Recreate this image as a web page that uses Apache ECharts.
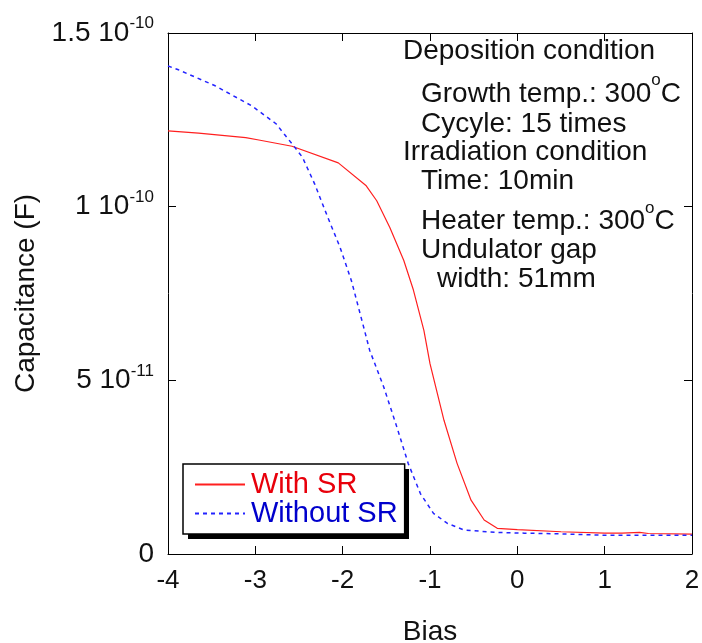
<!DOCTYPE html>
<html>
<head>
<meta charset="utf-8">
<script src="https://cdn.jsdelivr.net/npm/echarts@6/dist/echarts.min.js"></script>
<style>
html,body{margin:0;padding:0;background:#fff;}
#c{width:702px;height:643px;}
</style>
</head>
<body>
<div id="c"></div>
<script>
// ---- data ----
const xTicks = [-4, -3, -2, -1, 0, 1, 2];
const yTicks = [0, 5e-11, 1e-10, 1.5e-10];

const withSRBias = [-4, -3.65, -3.11, -2.96, -2.58, -2.05, -1.73, -1.61, -1.46, -1.30, -1.19, -1.07, -1.00, -0.84, -0.69, -0.53, -0.38, -0.23, 0.00, 0.50, 1.00, 1.20, 1.40, 1.50, 2.00];
const withSRCap  = [1.218e-10, 1.212e-10, 1.199e-10, 1.192e-10, 1.174e-10, 1.126e-10, 1.060e-10, 1.017e-10, 0.940e-10, 0.845e-10, 0.760e-10, 0.644e-10, 0.548e-10, 0.385e-10, 0.261e-10, 0.155e-10, 0.098e-10, 0.074e-10, 0.070e-10, 0.064e-10, 0.060e-10, 0.060e-10, 0.062e-10, 0.059e-10, 0.0575e-10];

const withoutSRBias = [-4, -3.88, -3.46, -3.04, -2.76, -2.67, -2.57, -2.46, -2.32, -2.17, -2.03, -1.90, -1.75, -1.69, -1.53, -1.38, -1.25, -1.11, -0.96, -0.80, -0.61, -0.23, 0.08, 0.50, 1.00, 2.00];
const withoutSRCap  = [1.405e-10, 1.394e-10, 1.348e-10, 1.290e-10, 1.238e-10, 1.209e-10, 1.178e-10, 1.142e-10, 1.065e-10, 0.969e-10, 0.883e-10, 0.787e-10, 0.644e-10, 0.586e-10, 0.481e-10, 0.366e-10, 0.261e-10, 0.174e-10, 0.117e-10, 0.088e-10, 0.069e-10, 0.062e-10, 0.060e-10, 0.058e-10, 0.054e-10, 0.054e-10];

const seriesNames = ['With SR', 'Without SR'];
const xName = 'Bias';
const yName = 'Capacitance (F)';
const noteLines = [
  'Deposition condition',
  'Growth temp.: 300{s|o}C',
  'Cycyle: 15 times',
  'Irradiation condition',
  'Time: 10min',
  'Heater temp.: 300{s|o}C',
  'Undulator gap',
  'width: 51mm'
];

// ---- layout / style ----
const FONT = "'Liberation Sans', Arial, Helvetica, sans-serif";
const noteX = [403, 421, 421, 403, 421, 421, 421, 437];
const noteY = [47.5, 90, 120, 148, 177, 217.5, 246, 275];

function zip(a, b) { return a.map((v, i) => [v, b[i]]); }

function yFmt(v) {
  if (Math.abs(v) < 1e-30) return '{m|0}';
  const e = Math.floor(Math.log10(v) + 1e-9);
  const m = +(v / Math.pow(10, e)).toFixed(3);
  return '{m|' + m + ' 10}{e|' + e + '}';
}

const chart = echarts.init(document.getElementById('c'), null, {renderer: 'canvas'});

const axisLine = {show: true, onZero: false, lineStyle: {color: '#000', width: 1}};
const tickIn = {show: true, inside: true, length: 8, lineStyle: {color: '#000', width: 1}};

const textGraphics = noteLines.map((t, i) => ({
  type: 'text',
  x: noteX[i], y: noteY[i],
  z: 10,
  style: {
    text: '{a|' + t.replace(/\{s\|o\}/g, '}{s|o}{a|') + '}',
    align: 'left', verticalAlign: 'middle',
    rich: {
      a: {fontSize: 28, lineHeight: 36, fill: '#111', fontFamily: FONT, verticalAlign: 'bottom'},
      s: {fontSize: 17, lineHeight: 14, fill: '#111', fontFamily: FONT, verticalAlign: 'top'}
    }
  }
}));

// black drop shadow behind the legend box
const legendShadow = {
  type: 'rect', z: 3,
  shape: {x: 188, y: 469, width: 221, height: 70},
  style: {fill: '#000'}
};

const option = {
  backgroundColor: '#fff',
  animation: false,
  textStyle: {fontFamily: FONT},
  grid: {left: 168, right: 10, top: 33, bottom: 89, containLabel: false, outerBoundsMode: 'none'},
  xAxis: [
    {
      type: 'value', min: xTicks[0], max: xTicks[xTicks.length - 1], interval: 1,
      position: 'bottom',
      axisLine: axisLine, axisTick: tickIn, splitLine: {show: false},
      axisLabel: {fontSize: 26, color: '#111', margin: 14, fontFamily: FONT},
      name: xName, nameLocation: 'middle', nameGap: 64,
      nameTextStyle: {fontSize: 28, color: '#111', fontFamily: FONT}
    },
    {
      type: 'value', min: xTicks[0], max: xTicks[xTicks.length - 1], interval: 1,
      position: 'top',
      axisLine: axisLine, axisTick: tickIn, splitLine: {show: false},
      axisLabel: {show: false}
    }
  ],
  yAxis: [
    {
      type: 'value', min: yTicks[0], max: yTicks[yTicks.length - 1], interval: 5e-11,
      position: 'left',
      axisLine: axisLine, axisTick: tickIn, splitLine: {show: false},
      axisLabel: {
        margin: 14, color: '#111', formatter: yFmt, padding: [0, 0, 4, 0],
        rich: {
          m: {fontSize: 28, lineHeight: 32, color: '#111', fontFamily: FONT, verticalAlign: 'bottom'},
          e: {fontSize: 17, lineHeight: 10, color: '#111', fontFamily: FONT, verticalAlign: 'top'}
        }
      },
      name: yName, nameLocation: 'middle', nameGap: 119, nameRotate: 90,
      nameTextStyle: {fontSize: 28, color: '#111', fontFamily: FONT}
    },
    {
      type: 'value', min: yTicks[0], max: yTicks[yTicks.length - 1], interval: 5e-11,
      position: 'right',
      axisLine: axisLine, axisTick: tickIn, splitLine: {show: false},
      axisLabel: {show: false}
    }
  ],
  legend: {
    orient: 'vertical',
    left: 183, top: 464,
    z: 5,
    padding: [6, 7, 6, 11],
    itemGap: 0,
    itemWidth: 50, itemHeight: 14,
    backgroundColor: '#fff',
    borderColor: '#000', borderWidth: 1.5, borderRadius: 0,
    itemStyle: {opacity: 0},
    textStyle: {fontSize: 29, fontFamily: FONT, lineHeight: 28, padding: [0, 0, 0, 1]},
    data: [
      {name: seriesNames[0], textStyle: {color: '#e8000b'}},
      {name: seriesNames[1], textStyle: {color: '#0000cc'}}
    ]
  },
  series: [
    {
      name: seriesNames[0], type: 'line', xAxisIndex: 0, yAxisIndex: 0,
      data: zip(withSRBias, withSRCap),
      symbol: 'none', smooth: false,
      lineStyle: {color: '#ff1f1f', width: 1.2, type: 'solid'},
      itemStyle: {color: '#ff1f1f'}
    },
    {
      name: seriesNames[1], type: 'line', xAxisIndex: 0, yAxisIndex: 0,
      data: zip(withoutSRBias, withoutSRCap),
      symbol: 'none', smooth: false,
      lineStyle: {color: '#2323ff', width: 1.5, type: [4, 4]},
      itemStyle: {color: '#2323ff'}
    }
  ],
  graphic: [legendShadow].concat(textGraphics)
};

chart.setOption(option);
</script>
</body>
</html>
